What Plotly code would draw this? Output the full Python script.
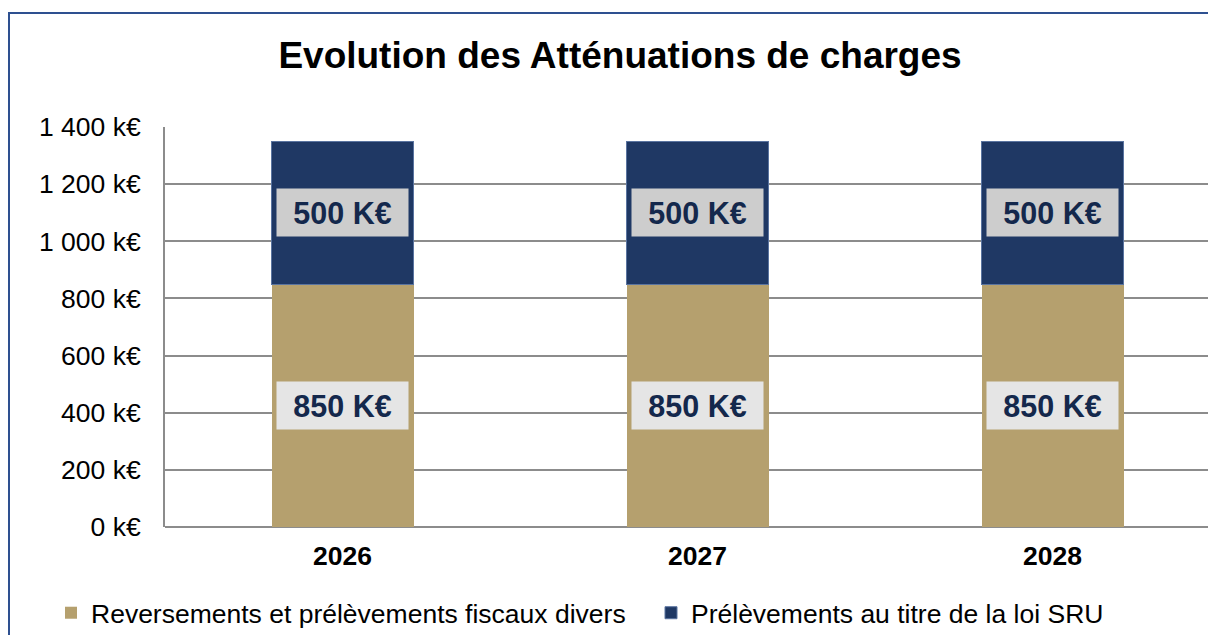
"""
Evolution des Atténuations de charges - stacked bars (Plotly)
"""

import plotly.graph_objects as go

# ==== DATA ====
YEARS = ["2026", "2027", "2028"]
REVERSEMENTS = [850, 850, 850]      # Reversements et prélèvements fiscaux divers (k€)
PRELEVEMENTS_SRU = [500, 500, 500]  # Prélèvements au titre de la loi SRU (k€)
Y_TICKS = [0, 200, 400, 600, 800, 1000, 1200, 1400]
Y_TICK_LABELS = ["0 k€", "200 k€", "400 k€", "600 k€", "800 k€",
                 "1 000 k€", "1 200 k€", "1 400 k€"]

# ==== STYLE ====
TAN = "#B5A06E"
NAVY = "#1F3864"
LABEL_COLOR = "#14284C"
FONT = "Liberation Sans, Arial, sans-serif"
W, H = 1208, 627          # page body keeps an 8px margin
L, T, B = 157, 119, 108   # plot area: left / top / bottom
PW, PH = W - L, H - T - B

fig = go.Figure()
fig.add_bar(x=YEARS, y=REVERSEMENTS, name="Reversements et prélèvements fiscaux divers",
            marker=dict(color=TAN, line=dict(width=0)), width=0.4, legend="legend")
fig.add_bar(x=YEARS, y=PRELEVEMENTS_SRU, name="Prélèvements au titre de la loi SRU",
            marker=dict(color=NAVY, line=dict(color="#5A74A0", width=1)), width=0.4,
            legend="legend2")

# === value boxes in the middle of each segment ===
for i, (low, top) in enumerate(zip(REVERSEMENTS, PRELEVEMENTS_SRU)):
    for base, val, bg in ((0, low, "#E5E5E5"), (low, top, "#CDCDCD")):
        fig.add_annotation(x=i, y=base + val / 2, text=f"<b>{val} K€</b>",
                           showarrow=False, bgcolor=bg, width=129, height=45,
                           font=dict(family=FONT, size=30.5, color=LABEL_COLOR))

# === outer chart border (right/bottom edges are off-screen) ===
fig.add_shape(type="rect", xref="paper", yref="paper",
              x0=(1 - L) / PW, x1=1.2, y0=-0.6, y1=(T + PH - 5) / PH,
              line=dict(color="#2E5090", width=2), layer="above")

legend_common = dict(orientation="h", xref="container", yref="container",
                     xanchor="left", y=1 - 605 / H, yanchor="middle",
                     font=dict(family=FONT, size=26.5, color="black"),
                     bgcolor="rgba(0,0,0,0)")

fig.update_layout(
    width=W, height=H,
    barmode="stack",
    plot_bgcolor="white", paper_bgcolor="white",
    margin=dict(l=L, r=0, t=T, b=B),
    title=dict(text="<b>Evolution des Atténuations de charges</b>",
               x=612 / W, xanchor="center", xref="container",
               y=1 - 47 / H, yanchor="middle", yref="container",
               font=dict(family=FONT, size=37, color="black")),
    font=dict(family=FONT, size=26.5, color="black"),
    showlegend=True,
    legend=dict(x=43 / W, **legend_common),
    legend2=dict(x=643 / W, **legend_common),
    xaxis=dict(type="category", range=[-0.5, -0.5 + PW / 355], showgrid=False,
               tickfont=dict(family=FONT, size=26.5, color="black"),
               tickprefix="<b>", ticksuffix="</b>",
               showline=False, ticks="", ticklabelstandoff=10),
    yaxis=dict(range=[0, 1400], tickvals=Y_TICKS, ticktext=Y_TICK_LABELS,
               showgrid=True, gridcolor="#8C8C8C", gridwidth=2,
               zeroline=True, zerolinecolor="#8C8C8C", zerolinewidth=2,
               showline=True, linecolor="#8C8C8C", linewidth=2,
               ticks="", ticklabelstandoff=17,
               tickfont=dict(family=FONT, size=26.5, color="black")),
)

fig.write_html("out.html")
